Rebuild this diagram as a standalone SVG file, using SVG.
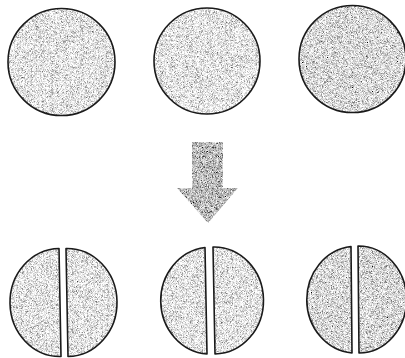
<svg xmlns="http://www.w3.org/2000/svg" width="405" height="358" viewBox="0 0 405 358">
  <defs>
    <filter id="grainLight" x="0" y="0" width="100%" height="100%">
      <feTurbulence type="fractalNoise" baseFrequency="2.2" numOctaves="1" seed="4" result="n"/>
      <feColorMatrix in="n" type="matrix" values="2.2 0 0 0 -0.33  2.2 0 0 0 -0.33  2.2 0 0 0 -0.33  0 0 0 0 1" result="g"/>
      <feComposite in="g" in2="SourceGraphic" operator="in"/>
    </filter>
    <filter id="grainMid" x="0" y="0" width="100%" height="100%">
      <feTurbulence type="fractalNoise" baseFrequency="2.2" numOctaves="1" seed="7" result="n"/>
      <feColorMatrix in="n" type="matrix" values="2.2 0 0 0 -0.41  2.2 0 0 0 -0.41  2.2 0 0 0 -0.41  0 0 0 0 1" result="g"/>
      <feComposite in="g" in2="SourceGraphic" operator="in"/>
    </filter>
    <filter id="grainDark" x="0" y="0" width="100%" height="100%">
      <feTurbulence type="fractalNoise" baseFrequency="2.2" numOctaves="1" seed="11" result="n"/>
      <feColorMatrix in="n" type="matrix" values="1.9 0 0 0 -0.45  1.9 0 0 0 -0.45  1.9 0 0 0 -0.45  0 0 0 0 1" result="g"/>
      <feComposite in="g" in2="SourceGraphic" operator="in"/>
    </filter>
  </defs>
  <style>
    .fill { fill: #000; stroke: none; }
    .light { filter: url(#grainLight); }
    .mid { filter: url(#grainMid); }
    .edge { fill: none; stroke: #1a1a1a; stroke-width: 1.6; stroke-linejoin: round; }
  </style>

  <g id="disc-1">
    <circle class="fill light" cx="61.5" cy="62" r="53.5"/>
    <circle class="edge" cx="61.5" cy="62" r="53.5"/>
  </g>
  <g id="disc-2">
    <circle class="fill light" cx="207" cy="61" r="53"/>
    <circle class="edge" cx="207" cy="61" r="53"/>
  </g>
  <g id="disc-3">
    <circle class="fill mid" cx="352.5" cy="59" r="53.5"/>
    <circle class="edge" cx="352.5" cy="59" r="53.5"/>
  </g>

  <g id="arrow">
    <path class="fill" filter="url(#grainDark)" d="M192 142 L223 142 L223 188 L238 188 L208 223 L177 188 L192 188 Z"/>
  </g>

  <g id="split-1">
    <path class="fill light" d="M59 248.5 A50 54 0 0 0 61 356.5 Z"/>
    <path class="edge" d="M59 248.5 A50 54 0 0 0 61 356.5 Z"/>
    <path class="fill light" d="M66 248.5 A50 54 0 0 1 68 356.5 Z"/>
    <path class="edge" d="M66 248.5 A50 54 0 0 1 68 356.5 Z"/>
  </g>
  <g id="split-2">
    <path class="fill light" d="M205 247.5 A50 53.5 0 0 0 207 354 Z"/>
    <path class="edge" d="M205 247.5 A50 53.5 0 0 0 207 354 Z"/>
    <path class="fill light" d="M213 247 A49.5 53.5 0 0 1 215 354 Z"/>
    <path class="edge" d="M213 247 A49.5 53.5 0 0 1 215 354 Z"/>
  </g>
  <g id="split-3">
    <path class="fill mid" d="M351 246.5 A49.5 53.5 0 0 0 352 353 Z"/>
    <path class="edge" d="M351 246.5 A49.5 53.5 0 0 0 352 353 Z"/>
    <path class="fill mid" d="M358 246 A48 53.5 0 0 1 359 353 Z"/>
    <path class="edge" d="M358 246 A48 53.5 0 0 1 359 353 Z"/>
  </g>
</svg>
